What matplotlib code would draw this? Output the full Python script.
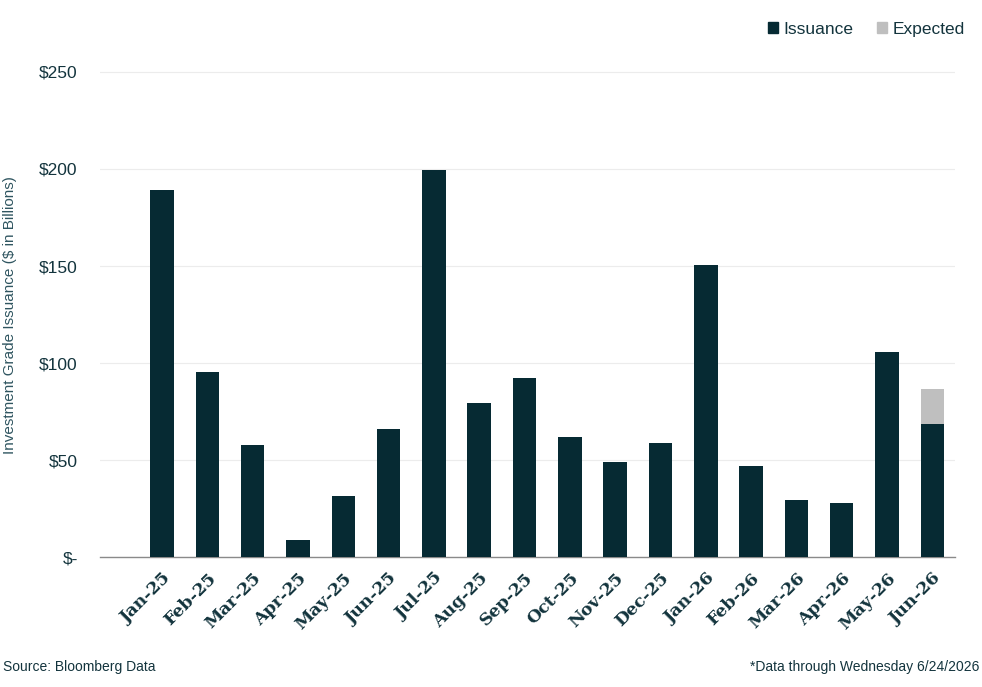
import matplotlib.pyplot as plt
import numpy as np
from matplotlib.patches import Patch

# Monthly issuance ($ billions)
months = ['Jan-25', 'Feb-25', 'Mar-25', 'Apr-25', 'May-25', 'Jun-25', 'Jul-25', 'Aug-25',
          'Sep-25', 'Oct-25', 'Nov-25', 'Dec-25', 'Jan-26', 'Feb-26', 'Mar-26', 'Apr-26',
          'May-26', 'Jun-26']
issuance = [189, 95.5, 57.7, 8.8, 31.4, 66, 199.5, 79.4, 92.3, 61.9, 49, 58.8,
            150.5, 46.9, 29.4, 27.8, 105.7, 68.6]
expected = [0, 0, 0, 0, 0, 0, 0, 0, 0, 0, 0, 0, 0, 0, 0, 0, 0, 18]

yticks = [0, 50, 100, 150, 200, 250]
ytick_labels = ['$-', '$50', '$100', '$150', '$200', '$250']

dark = '#062a33'
grey = '#bfbfbf'
text_col = '#13343d'

plt.rcParams['font.family'] = ['Liberation Sans', 'DejaVu Sans']

fig = plt.figure(figsize=(9.82, 6.87), dpi=100)
ax = fig.add_axes([0.1018, 0.189, 0.8707, 0.7346])

x = np.arange(len(months))
ax.bar(x, issuance, width=0.52, color=dark, zorder=3)
ax.bar(x, expected, width=0.52, bottom=issuance, color=grey, zorder=3)

ax.set_xlim(-1.37, 17.5)
ax.set_ylim(0, 260)
ax.set_yticks(yticks)
ax.set_yticklabels(ytick_labels, fontsize=12.5, color=text_col)
ax.set_xticks(x)
ax.set_xticklabels(months, rotation=45, ha='right', rotation_mode='anchor',
                   fontsize=12.5, fontweight='bold', color=text_col,
                   family=['DejaVu Serif'])
for lbl in ax.get_xticklabels():
    lbl.set_x(lbl.get_position()[0])
ax.tick_params(axis='y', length=0, pad=16)
ax.tick_params(axis='x', length=0, pad=9)
ax.grid(axis='y', color='#ececec', linewidth=0.8, zorder=0)
for s in ['top', 'right', 'left']:
    ax.spines[s].set_visible(False)
ax.spines['bottom'].set_color('#8a8a8a')
ax.spines['bottom'].set_linewidth(1.0)

# legend at top right
handles = [Patch(color=dark, label='Issuance'), Patch(color=grey, label='Expected')]
fig.legend(handles=handles, loc='upper right', bbox_to_anchor=(0.998, 1 - 6 / 687),
           ncol=2, frameon=False, fontsize=12.5, handlelength=0.55, handleheight=0.55,
           handletextpad=0.3, columnspacing=1.4, labelcolor=text_col)

# y-axis label at the far left
fig.text(3 / 982, 1 - 315 / 687, 'Investment Grade Issuance ($ in Billions)', rotation=90,
         ha='left', va='center', fontsize=11, color='#2f5560')

fig.text(3 / 982, 1 - 667 / 687, 'Source: Bloomberg Data', fontsize=10, color=text_col,
         ha='left', va='center')
fig.text(0.997, 1 - 667 / 687, '*Data through Wednesday 6/24/2026', fontsize=10,
         color=text_col, ha='right', va='center')

fig.savefig('out.png', dpi=100)
